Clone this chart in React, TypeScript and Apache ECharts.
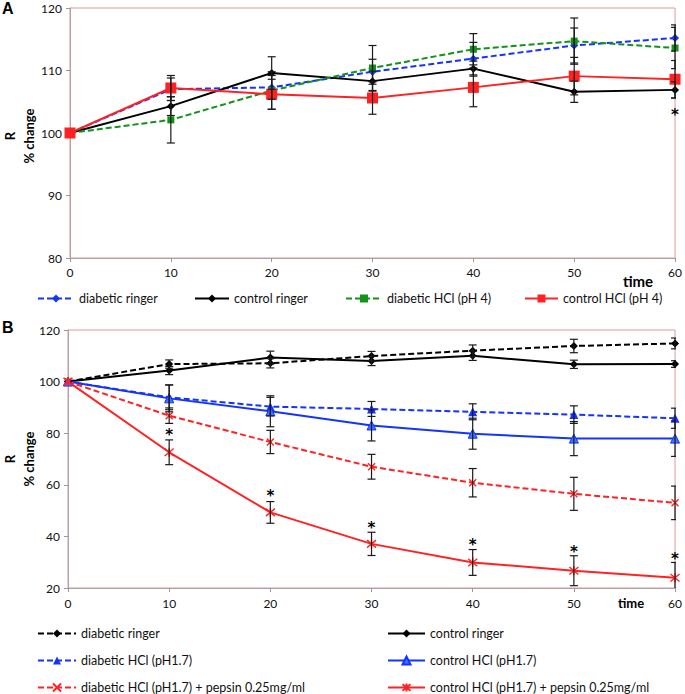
import React, { useEffect, useRef } from "react";
import * as echarts from "echarts";

// ---------- data ----------
const times = [0, 10, 20, 30, 40, 50, 60];

// Panel A
const aDiabRinger = [100, 107.0, 107.3, 109.8, 111.9, 114.0, 115.2];
const aDiabRingerErr = [0, 1.8, 1.9, 2.0, 2.6, 2.8, 2.1];
const aCtrlRinger = [100, 104.3, 109.6, 108.3, 110.3, 106.6, 106.9];
const aCtrlRingerErr = [0, 1.5, 2.6, 1.6, 1.2, 1.7, 1.3];
const aDiabHCl4 = [100, 102.1, 106.8, 110.4, 113.4, 114.7, 113.6];
const aDiabHCl4Err = [0, 3.7, 3.0, 3.6, 2.5, 3.7, 3.3];
const aCtrlHCl4 = [100, 107.2, 106.2, 105.6, 107.3, 109.1, 108.6];
const aCtrlHCl4Err = [0, 2.0, 2.4, 2.6, 3.1, 3.0, 3.0];
const aStars = [[60, 103.4]];

// Panel B
const bDiabRinger = [100, 106.8, 107.1, 109.9, 112.0, 113.8, 114.8];
const bDiabRingerErr = [0, 1.6, 1.8, 1.8, 2.2, 2.6, 2.1];
const bCtrlRinger = [100, 104.3, 109.3, 108.0, 110.0, 106.7, 106.8];
const bCtrlRingerErr = [0, 1.6, 2.5, 1.8, 1.8, 1.6, 1.3];
const bDiabHCl17 = [100, 93.9, 90.3, 89.4, 88.3, 87.2, 85.8];
const bDiabHCl17Err = [0, 4.8, 3.6, 2.9, 3.1, 3.4, 3.9];
const bCtrlHCl17 = [100, 93.5, 88.5, 83.0, 79.8, 77.9, 77.9];
const bCtrlHCl17Err = [0, 5.2, 6.0, 6.0, 6.0, 6.6, 6.9];
const bDiabPepsin = [100, 86.8, 76.6, 67.0, 60.8, 56.5, 53.0];
const bDiabPepsinErr = [0, 3.0, 4.5, 4.8, 5.5, 6.4, 6.5];
const bCtrlPepsin = [100, 72.6, 49.3, 37.1, 29.9, 26.7, 24.0];
const bCtrlPepsinErr = [0, 4.8, 4.2, 4.5, 5.0, 5.8, 5.9];
const bStars = [[10, 80.5], [20, 56.8], [30, 44.5], [40, 38.0], [50, 35.2], [60, 32.3]];

const yTicksA = { min: 80, max: 120, interval: 10 };
const yTicksB = { min: 20, max: 120, interval: 20 };

const FONT = "Lato";
const BLUE = "#1433ff";
const GREEN = "#12921a";
const RED = "#ff2222";
const BLACK = "#000000";
const X_PATH = "path://M0,0L10,10M10,0L0,10";
const STAR_PATH = "path://M0,0L10,10M10,0L0,10M5,-1L5,11";

const pts = (v: number[]) => times.map((t, i) => [t, v[i]]);
const errs = (v: number[], e: number[]) =>
  times.map((t, i) => [t, v[i] - e[i], v[i] + e[i]]).filter((_, i) => e[i] > 0);

function lineSeries(name: string, grid: number, values: number[], color: string, dashed: boolean, symbol: string, size: number, fill?: string) {
  const isPath = symbol.startsWith("path://");
  return {
    type: "line",
    name,
    xAxisIndex: grid,
    yAxisIndex: grid,
    data: pts(values),
    symbol,
    symbolSize: size,
    lineStyle: { color, width: 2, type: dashed ? [6, 3] : "solid" },
    itemStyle: isPath
      ? { color: "rgba(0,0,0,0)", borderColor: color, borderWidth: 1.4 }
      : { color: fill || color, borderColor: color, borderWidth: fill ? 1 : 0 },
    z: 2,
  };
}

function errSeries(grid: number, data: number[][]) {
  return {
    type: "custom",
    xAxisIndex: grid,
    yAxisIndex: grid,
    data,
    clip: true,
    z: 3,
    encode: { x: 0, y: [1, 2] },
    renderItem: (params: any, api: any) => {
      const x = api.value(0);
      const p1 = api.coord([x, api.value(2)]);
      const p2 = api.coord([x, api.value(1)]);
      const w = 4;
      const style = { stroke: "#1a1a1a", lineWidth: 1.2 };
      return {
        type: "group",
        children: [
          { type: "line", shape: { x1: p1[0], y1: p1[1], x2: p2[0], y2: p2[1] }, style },
          { type: "line", shape: { x1: p1[0] - w, y1: p1[1], x2: p1[0] + w, y2: p1[1] }, style },
          { type: "line", shape: { x1: p2[0] - w, y1: p2[1], x2: p2[0] + w, y2: p2[1] }, style },
        ],
      };
    },
  };
}

function starSeries(grid: number, data: number[][]) {
  return {
    type: "custom",
    xAxisIndex: grid,
    yAxisIndex: grid,
    data,
    z: 4,
    encode: { x: 0, y: 1 },
    renderItem: (params: any, api: any) => {
      const p = api.coord([api.value(0), api.value(1)]);
      return {
        type: "text",
        x: p[0],
        y: p[1] + 3,
        style: {
          text: "*",
          font: "bold 15px 'DejaVu Sans'",
          fill: "#000",
          align: "center",
          verticalAlign: "middle",
        },
      };
    },
  };
}

function legendItem(name: string, left: number, top: number, width: number) {
  return {
    data: [name],
    left,
    top,
    padding: 0,
    itemWidth: width,
    itemHeight: 10,
    selectedMode: false,
    formatter: (n: string) => n.slice(2),
    textStyle: { fontFamily: FONT, fontSize: 12.5, color: "#111" },
  };
}

function axisCommon() {
  return {
    axisLine: { show: true, lineStyle: { color: "#b0a2a2", width: 1 } },
    axisTick: { show: true, length: 4, lineStyle: { color: "#999" } },
    splitLine: { show: false },
    axisLabel: { fontFamily: FONT, fontSize: 12, color: "#111", margin: 8 },
  };
}

export default function App() {
  const ref = useRef<HTMLDivElement>(null);
  useEffect(() => {
    if (!ref.current) return;
    const chart = echarts.init(ref.current, null, { renderer: "svg" });
    const option: any = {
      animation: false,
      backgroundColor: "#ffffff",
      grid: [
        { left: 70, top: 8, width: 607, height: 250, show: true, borderColor: "#d99a9a", borderWidth: 1 },
        { left: 68, top: 330, width: 608, height: 258, show: true, borderColor: "#d99a9a", borderWidth: 1 },
      ],
      xAxis: [
        { type: "value", gridIndex: 0, min: 0, max: 60, interval: 10, ...axisCommon() },
        { type: "value", gridIndex: 1, min: 0, max: 60, interval: 10, ...axisCommon(), axisLabel: { fontFamily: FONT, fontSize: 12, color: "#111", margin: 9 } },
      ],
      yAxis: [
        { type: "value", gridIndex: 0, ...yTicksA, ...axisCommon() },
        { type: "value", gridIndex: 1, ...yTicksB, ...axisCommon() },
      ],
      legend: [
        legendItem("A:diabetic ringer", 37, 292, 36),
        legendItem("A:control ringer", 194, 292, 34),
        legendItem("A:diabetic HCl (pH 4)", 345, 292, 36),
        legendItem("A:control HCl (pH 4)", 524, 292, 33),
        legendItem("B:diabetic ringer", 37, 627, 38),
        legendItem("B:control ringer", 387, 627, 37),
        legendItem("B:diabetic HCl (pH1.7)", 37, 654, 38),
        legendItem("B:control HCl (pH1.7)", 387, 654, 37),
        legendItem("B:diabetic HCl (pH1.7) + pepsin 0.25mg/ml", 37, 681, 38),
        legendItem("B:control HCl (pH1.7) + pepsin 0.25mg/ml", 387, 681, 37),
      ],
      graphic: [
        { type: "text", left: 2, top: 0, style: { text: "A", font: "bold 16px 'Liberation Sans'", fill: "#000" } },
        { type: "text", left: 2, top: 319, style: { text: "B", font: "bold 16px 'Liberation Sans'", fill: "#000" } },
        { type: "text", x: 19, y: 136, rotation: Math.PI / 2, style: { text: "R\n% change", font: `bold 13px ${FONT}`, fill: "#000", align: "center", verticalAlign: "middle", lineHeight: 19 } },
        { type: "text", x: 19, y: 459, rotation: Math.PI / 2, style: { text: "R\n% change", font: `bold 13px ${FONT}`, fill: "#000", align: "center", verticalAlign: "middle", lineHeight: 19 } },
        { type: "text", x: 638, y: 281, style: { text: "time", font: `bold 15px ${FONT}`, fill: "#000", align: "center", verticalAlign: "middle" } },
        { type: "text", x: 631, y: 603, style: { text: "time", font: `bold 13px ${FONT}`, fill: "#000", align: "center", verticalAlign: "middle" } },
      ],
      series: [
        lineSeries("A:diabetic ringer", 0, aDiabRinger, BLUE, true, "diamond", 8),
        lineSeries("A:control ringer", 0, aCtrlRinger, BLACK, false, "diamond", 8),
        lineSeries("A:diabetic HCl (pH 4)", 0, aDiabHCl4, GREEN, true, "rect", 7),
        lineSeries("A:control HCl (pH 4)", 0, aCtrlHCl4, RED, false, "rect", 11),
        errSeries(0, errs(aDiabRinger, aDiabRingerErr)),
        errSeries(0, errs(aCtrlRinger, aCtrlRingerErr)),
        errSeries(0, errs(aDiabHCl4, aDiabHCl4Err)),
        errSeries(0, errs(aCtrlHCl4, aCtrlHCl4Err)),
        starSeries(0, aStars),

        lineSeries("B:diabetic ringer", 1, bDiabRinger, BLACK, true, "diamond", 8),
        lineSeries("B:control ringer", 1, bCtrlRinger, BLACK, false, "diamond", 8),
        lineSeries("B:diabetic HCl (pH1.7)", 1, bDiabHCl17, BLUE, true, "triangle", 9),
        lineSeries("B:control HCl (pH1.7)", 1, bCtrlHCl17, BLUE, false, "triangle", 9, "#3f74ff"),
        lineSeries("B:diabetic HCl (pH1.7) + pepsin 0.25mg/ml", 1, bDiabPepsin, RED, true, X_PATH, 7),
        lineSeries("B:control HCl (pH1.7) + pepsin 0.25mg/ml", 1, bCtrlPepsin, RED, false, STAR_PATH, 9),
        errSeries(1, errs(bDiabRinger, bDiabRingerErr)),
        errSeries(1, errs(bCtrlRinger, bCtrlRingerErr)),
        errSeries(1, errs(bDiabHCl17, bDiabHCl17Err)),
        errSeries(1, errs(bCtrlHCl17, bCtrlHCl17Err)),
        errSeries(1, errs(bDiabPepsin, bDiabPepsinErr)),
        errSeries(1, errs(bCtrlPepsin, bCtrlPepsinErr)),
        starSeries(1, bStars),
      ],
    };
    chart.setOption(option);
    return () => chart.dispose();
  }, []);
  return (
    <div
      ref={ref}
      style={{ position: "fixed", left: 0, top: 0, width: 685, height: 694, background: "#fff" }}
    />
  );
}
